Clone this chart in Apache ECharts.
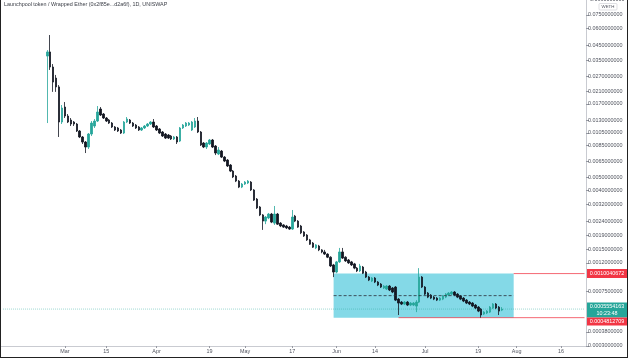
<!DOCTYPE html>
<html><head><meta charset="utf-8">
<script src="https://cdn.jsdelivr.net/npm/echarts@6/dist/echarts.min.js"></script>
<style>
html,body{margin:0;padding:0;background:#fff;}
#wrap{position:relative;width:628px;height:358px;}
#c{width:628px;height:358px;}
#frame{position:absolute;left:0;top:0;width:628px;height:358px;box-sizing:border-box;border-left:1px solid #222;border-right:1px solid #222;border-bottom:1px solid #222;pointer-events:none;}
</style>
</head><body>
<div id="wrap"><div id="c"></div><div id="frame"></div></div>
<script>
const chartTitle = 'Launchpool token / Wrapped Ether (0x2f85e...d2a6f), 1D, UNISWAP';
const axisStart = '2021-02-08';
const axisDays = 198;
const candleStart = '2021-02-23';

const opens = [0.0378,0.0405,0.0315,0.0262,0.0226,0.01258,0.01616,0.01391,0.01301,0.01258,
0.01217,0.01083,0.00980,0.00901,0.00829,0.01030,0.01177,0.01279,0.01563,0.01438,
0.01345,0.01301,0.01237,0.01158,0.01139,0.01101,0.01047,0.01258,0.01301,0.01237,
0.01197,0.01158,0.01101,0.01139,0.01177,0.01217,0.01258,0.01177,0.01120,0.01065,
0.01030,0.01013,0.00996,0.00948,0.00980,0.00916,0.01139,0.01177,0.01197,0.01101,
0.01158,0.01279,0.01065,0.00886,0.00829,0.00872,0.00932,0.00843,0.00738,0.00775,
0.00701,0.00667,0.00614,0.00555,0.00511,0.00470,0.00425,0.00447,0.00455,0.00462,
0.00405,0.00348,0.00305,0.00267,0.00241,0.00254,0.00271,0.00233,0.00271,0.00233,
0.00226,0.00222,0.00218,0.00211,0.00262,0.00241,0.00222,0.00201,0.00191,0.00176,
0.00167,0.00154,0.00159,0.00149,0.00144,0.00139,0.00132,0.00116,0.00103,0.00122,
0.00144,0.00132,0.00126,0.00122,0.00118,0.00110,0.00105,0.00112,0.00103,0.000947,
0.000886,0.000932,0.000872,0.000843,0.000789,0.000776,0.000815,0.000789,0.000802,0.000656,
0.000624,0.000604,0.000624,0.000594,0.000594,0.000584,0.000624,0.000947,0.000802,0.000725,
0.000702,0.000678,0.000667,0.000645,0.000656,0.000678,0.000702,0.000713,0.000738,0.000713,
0.000690,0.000667,0.000645,0.000624,0.000614,0.000594,0.000574,0.000555,0.000511,0.000520,
0.000528,0.000565,0.000604,0.000574,0.000546];

const closes = [0.0405,0.0315,0.0245,0.0226,0.01258,0.01589,0.01391,0.01258,0.01217,0.01217,
0.01083,0.00980,0.00901,0.00829,0.01030,0.01237,0.01279,0.01487,0.01414,0.01345,
0.01279,0.01237,0.01158,0.01101,0.01083,0.01047,0.01258,0.01323,0.01237,0.01177,
0.01139,0.01101,0.01139,0.01177,0.01217,0.01258,0.01158,0.01101,0.01047,0.00996,
0.00963,0.00963,0.00948,0.00980,0.00901,0.01139,0.01197,0.01237,0.01237,0.01258,
0.01279,0.01065,0.00857,0.00829,0.00886,0.00932,0.00829,0.00750,0.00789,0.00701,
0.00656,0.00604,0.00555,0.00503,0.00470,0.00425,0.00447,0.00462,0.00470,0.00405,
0.00342,0.00300,0.00267,0.00241,0.00258,0.00271,0.00237,0.00271,0.00229,0.00222,
0.00218,0.00215,0.00211,0.00258,0.00241,0.00218,0.00198,0.00188,0.00176,0.00164,
0.00156,0.00162,0.00149,0.00144,0.00139,0.00132,0.00114,0.00103,0.00122,0.00144,
0.00130,0.00124,0.00120,0.00116,0.00110,0.00105,0.00114,0.00101,0.000947,0.000901,
0.000932,0.000872,0.000829,0.000802,0.000815,0.000815,0.000763,0.000738,0.000645,0.000614,
0.000604,0.000624,0.000594,0.000614,0.000614,0.000624,0.000947,0.000802,0.000713,0.000678,
0.000667,0.000656,0.000645,0.000667,0.000690,0.000713,0.000725,0.000738,0.000702,0.000678,
0.000656,0.000635,0.000614,0.000604,0.000584,0.000565,0.000537,0.000503,0.000528,0.000537,
0.000574,0.000604,0.000565,0.000537,0.0005554];

const lows = [0.01237,0.0300,0.0208,0.0208,0.00980,0.01217,0.01345,0.01237,0.01177,0.01177,
0.01065,0.00963,0.00872,0.00750,0.00802,0.00996,0.01139,0.01258,0.01391,0.01323,
0.01258,0.01217,0.01139,0.01083,0.01065,0.01030,0.01030,0.01237,0.01217,0.01158,
0.01120,0.01083,0.01083,0.01120,0.01158,0.01197,0.01139,0.01083,0.01030,0.00980,
0.00948,0.00948,0.00932,0.00932,0.00872,0.00901,0.01120,0.01158,0.01177,0.01083,
0.01139,0.01047,0.00843,0.00815,0.00802,0.00857,0.00815,0.00725,0.00725,0.00690,
0.00645,0.00594,0.00546,0.00494,0.00462,0.00418,0.00418,0.00440,0.00447,0.00398,
0.00337,0.00295,0.00262,0.00208,0.00229,0.00249,0.00233,0.00226,0.00226,0.00218,
0.00215,0.00211,0.00208,0.00208,0.00237,0.00215,0.00194,0.00185,0.00173,0.00162,
0.00154,0.00151,0.00146,0.00141,0.00137,0.00130,0.00112,0.000947,0.00101,0.00120,
0.00128,0.00122,0.00118,0.00114,0.00108,0.00103,0.00103,0.000996,0.000932,0.000886,
0.000872,0.000857,0.000815,0.000789,0.000776,0.000763,0.000750,0.000725,0.000635,0.000503,
0.000594,0.000594,0.000584,0.000584,0.000584,0.000528,0.000614,0.000789,0.000702,0.000667,
0.000656,0.000645,0.000635,0.000635,0.000645,0.000667,0.000690,0.000702,0.000690,0.000667,
0.000645,0.000624,0.000604,0.000594,0.000574,0.000555,0.000528,0.000481,0.000503,0.000511,
0.000520,0.000555,0.000555,0.000503,0.000537];

const highs = [0.0418,0.0537,0.0331,0.0276,0.0233,0.01671,0.01756,0.01438,0.01345,0.01279,
0.01237,0.01101,0.00996,0.00916,0.01047,0.01279,0.01323,0.01643,0.01616,0.01462,
0.01368,0.01323,0.01258,0.01177,0.01158,0.01120,0.01279,0.01368,0.01323,0.01258,
0.01217,0.01177,0.01158,0.01197,0.01237,0.01279,0.01323,0.01197,0.01139,0.01083,
0.01047,0.01030,0.01013,0.00996,0.00996,0.01158,0.01217,0.01258,0.01258,0.01279,
0.01345,0.01368,0.01083,0.00901,0.00901,0.00948,0.00948,0.00857,0.00829,0.00789,
0.00713,0.00678,0.00624,0.00565,0.00520,0.00478,0.00455,0.00470,0.00478,0.00470,
0.00411,0.00354,0.00310,0.00271,0.00262,0.00276,0.00276,0.00310,0.00276,0.00237,
0.00229,0.00226,0.00222,0.00290,0.00267,0.00245,0.00226,0.00204,0.00194,0.00179,
0.00170,0.00164,0.00162,0.00151,0.00149,0.00141,0.00134,0.00118,0.00124,0.00154,
0.00154,0.00134,0.00128,0.00124,0.00120,0.00112,0.00118,0.00114,0.00105,0.000963,
0.000947,0.000947,0.000886,0.000857,0.000829,0.000829,0.000829,0.000802,0.000815,0.000667,
0.000635,0.000635,0.000635,0.000624,0.000624,0.000645,0.00110,0.000963,0.000815,0.000738,
0.000713,0.000690,0.000678,0.000678,0.000702,0.000725,0.000738,0.000750,0.000750,0.000725,
0.000702,0.000678,0.000656,0.000635,0.000624,0.000604,0.000584,0.000565,0.000537,0.000546,
0.000584,0.000614,0.000614,0.000584,0.000574];

const xTickDates = ['2021-03-01','2021-03-15','2021-04-01','2021-04-19','2021-05-01','2021-05-17','2021-06-01','2021-06-14','2021-07-01','2021-07-19','2021-08-01','2021-08-16'];
const xTickLabels = ['Mar','15','Apr','19','May','17','Jun','14','Jul','19','Aug','16'];
const yTickValues = [0.075,0.06,0.045,0.035,0.027,0.021,0.017,0.013,0.0105,0.0085,0.0065,0.005,0.004,0.0032,0.0024,0.0019,0.0015,0.0012,0.00075,0.00038,0.0003];
const yTopLabel = 0.099;

const rangeStart = '2021-05-31', rangeEnd = '2021-07-31';
const rangeHigh = 0.0010040672, rangeLow = 0.0004812709;
const rangeMid = 0.000695;
const lowRayStart = '2021-06-22';
const lastPrice = 0.0005554163;
const countdown = '10:23:48';
const quoteUnit = 'WETH';

function ymd(dt){return dt.toISOString().slice(0,10);}
const dates = [];
{
  const t0 = Date.parse(axisStart + 'T00:00:00Z');
  for (let i = 0; i < axisDays; i++) dates.push(ymd(new Date(t0 + i*86400000)));
}
const lastDate = dates[dates.length-1];
const offset = dates.indexOf(candleStart);
const candleData = opens.map((o,i)=>[dates[offset+i], o, closes[i], lows[i], highs[i]]);
const tickMap = {}; xTickDates.forEach((d,i)=>tickMap[d]=xTickLabels[i]);

const FONT = 'Liberation Sans';
const TXT = '#50535e';
const chart = echarts.init(document.getElementById('c'), null, {renderer:'canvas'});
const yMin = 0.0003, yMax = 0.09632;

function hline(name, x0, x1, v, style){
  return {type:'line', name, silent:true, symbol:'none', animation:false, z:style.z||3,
    data:[[x0, v],[x1, v]], lineStyle:style.ls, tooltip:{show:false}};
}

chart.setOption({
  animation:false,
  backgroundColor:'#ffffff',
  grid:{left:1.5, right:42, top:0, bottom:12},
  xAxis:{
    type:'category', data:dates, boundaryGap:true,
    axisLine:{show:true, lineStyle:{color:'#c9cbd1', width:1}},
    axisTick:{show:true, alignWithLabel:true, length:2, interval:(i,v)=>tickMap[v]!==undefined, lineStyle:{color:'#9598a1'}},
    axisLabel:{interval:(i,v)=>tickMap[v]!==undefined, formatter:(v)=>tickMap[v]||'', fontSize:5.4, color:TXT, fontFamily:FONT, margin:3},
    splitLine:{show:false}
  },
  yAxis:{
    type:'log', logBase:10, position:'right', min:yMin, max:yMax,
    axisLine:{show:true, lineStyle:{color:'#c9cbd1', width:1}},
    axisTick:{show:true, length:3, customValues:yTickValues, lineStyle:{color:'#9598a1'}},
    axisLabel:{customValues:yTickValues, formatter:(v)=>Number(v).toFixed(10), fontSize:5.4, color:TXT, fontFamily:FONT, margin:2},
    splitLine:{show:false}
  },
  series:[
    {
      type:'candlestick',
      data:candleData,
      encode:{x:0, y:[1,2,3,4]},
      barWidth:2,
      z:4,
      itemStyle:{color:'#26a69a', color0:'#131722', borderColor:'#26a69a', borderColor0:'#131722', borderWidth:0.8},
      markArea:{silent:true, itemStyle:{color:'#84d9e7'}, data:[[{xAxis:rangeStart, yAxis:rangeHigh},{xAxis:rangeEnd, yAxis:rangeLow}]]}
    },
    hline('price', dates[0], lastDate, lastPrice, {ls:{color:'rgba(38,166,154,0.45)', type:'dotted', width:1}, z:2}),
    hline('mid', rangeStart, rangeEnd, rangeMid, {ls:{color:'#2a2e39', type:[3,2], width:0.8}, z:5}),
    hline('hi', rangeEnd, lastDate, rangeHigh, {ls:{color:'rgba(242,54,69,0.75)', width:1}, z:3}),
    hline('lo', lowRayStart, lastDate, rangeLow, {ls:{color:'rgba(242,54,69,0.75)', width:1}, z:3})
  ]
});

const yHi = chart.convertToPixel({yAxisIndex:0}, rangeHigh);
const yLast = chart.convertToPixel({yAxisIndex:0}, lastPrice);
const yTopPx = chart.convertToPixel({yAxisIndex:0}, yTopLabel);
const bx = 587, bw = 40;
chart.setOption({
  graphic:[
    {type:'text', left:4, top:2, silent:true, style:{text:chartTitle, fontSize:5.4, fill:'#3a3d46', fontFamily:FONT}},
    {type:'text', x:590, y:yTopPx+1, silent:true, style:{text:Number(yTopLabel).toFixed(10), fontSize:5.4, fill:TXT, fontFamily:FONT, verticalAlign:'middle'}},
    {type:'rect', shape:{x:599, y:3.5, width:18, height:6.5, r:1}, silent:true, style:{fill:'#fff', stroke:'#c9cbd1', lineWidth:0.6}},
    {type:'text', x:608, y:6.8, silent:true, style:{text:quoteUnit, fontSize:4.4, fill:TXT, fontFamily:FONT, align:'center', verticalAlign:'middle'}},
    {type:'rect', shape:{x:bx, y:yHi-4.5, width:bw, height:9}, silent:true, style:{fill:'#f23645'}},
    {type:'text', x:bx+bw/2, y:yHi, silent:true, style:{text:rangeHigh.toFixed(10), fontSize:5.4, fill:'#fff', fontFamily:FONT, align:'center', verticalAlign:'middle'}},
    {type:'rect', shape:{x:bx, y:yLast-6.5, width:bw, height:15}, silent:true, style:{fill:'#26a69a'}},
    {type:'text', x:bx+bw/2, y:yLast-2.5, silent:true, style:{text:lastPrice.toFixed(10), fontSize:5.4, fill:'#fff', fontFamily:FONT, align:'center', verticalAlign:'middle'}},
    {type:'text', x:bx+bw/2, y:yLast+4.5, silent:true, style:{text:countdown, fontSize:5.4, fill:'#fff', fontFamily:FONT, align:'center', verticalAlign:'middle'}},
    {type:'rect', shape:{x:bx, y:yLast+8.5, width:bw, height:8}, silent:true, style:{fill:'#f23645'}},
    {type:'text', x:bx+bw/2, y:yLast+12.5, silent:true, style:{text:rangeLow.toFixed(10), fontSize:5.4, fill:'#fff', fontFamily:FONT, align:'center', verticalAlign:'middle'}}
  ]
});
</script>
</body></html>
